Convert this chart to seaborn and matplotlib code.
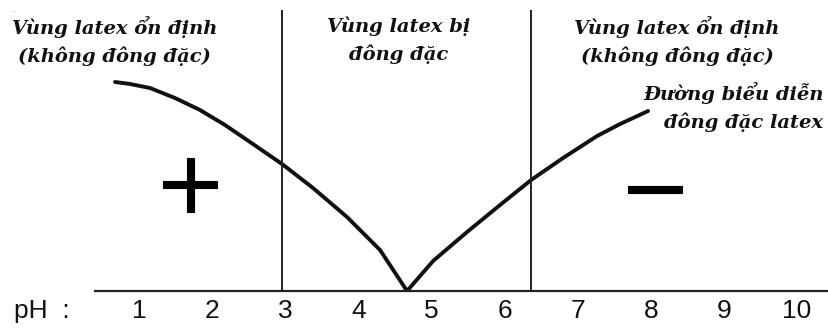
import matplotlib
matplotlib.use("Agg")
import matplotlib.pyplot as plt
import matplotlib.patheffects as pe
import seaborn as sns
import pandas as pd

# ---- data ----
curve_ph = [0.672, 0.877, 1.150, 1.492, 1.834, 2.176, 2.518, 2.956, 3.380,
            3.845, 4.297, 4.666, 5.022, 5.487, 5.938, 6.363, 6.800, 7.265,
            7.580, 7.963]
curve_h = [209, 207, 203, 193, 181, 166, 149, 127, 103,
           74, 41, 0, 30, 59, 86, 111, 133, 155,
           167, 180]
boundaries_ph = [2.96, 6.36]
tick_ph = [1, 2, 3, 4, 5, 6, 7, 8, 9, 10]
tick_labels = ["1", "2", "3", "4", "5", "6", "7", "8", "9", "10"]
region_labels = ["Vùng latex ổn định\n(không đông đặc)",
                 "Vùng latex bị\nđông đặc",
                 "Vùng latex ổn định\n(không đông đặc)"]
region_label_ph = [0.67, 4.55, 8.36]
curve_label = "Đường biểu diễn\nđông đặc latex"
charge_labels = ["+", "\u2212"]
charge_ph = [1.70, 8.06]
charge_h = [103, 98]

sns.set_theme(style="white")
plt.rcParams["font.family"] = ["DejaVu Sans"]

W, H = 829, 333
fig = plt.figure(figsize=(W / 100, H / 100), dpi=100)
ax = fig.add_axes([95 / W, 42 / H, 732 / W, 281 / H])

df = pd.DataFrame({"pH": curve_ph, "h": curve_h})
sns.lineplot(data=df, x="pH", y="h", color="#111111", lw=2.8, ax=ax,
             estimator=None, sort=True)
for ln in ax.lines:
    ln.set_solid_joinstyle("round")
    ln.set_solid_capstyle("round")

ax.vlines(boundaries_ph, 0, 281, color="#222222", lw=1.4)

ax.set_xlim(0.398, 10.41)
ax.set_ylim(0, 281)

for s in ["top", "left", "right"]:
    ax.spines[s].set_visible(False)
ax.spines["bottom"].set_color("#222222")
ax.spines["bottom"].set_linewidth(1.6)
ax.set_yticks([])
ax.set_xticks(tick_ph)
sans_narrow = ["Liberation Sans Narrow", "Liberation Sans", "DejaVu Sans"]
ax.set_xticklabels(tick_labels, family=sans_narrow, fontsize=19, color="#111111")
ax.tick_params(axis="x", length=0, pad=6)
ax.set_xlabel("")
ax.set_ylabel("")

fig.text(14 / W, 1 - 311 / H, "pH  :", family=sans_narrow,
         fontsize=19, color="#111111", ha="left", va="center")

serif = dict(family="DejaVu Serif", fontweight="bold", fontstyle="italic",
             color="#111111", fontsize=14, linespacing=1.55)
for lab, xp in zip(region_labels, region_label_ph):
    ax.text(xp, 275, lab, ha="center", va="top", **serif)
ax.text(10.36, 209, curve_label, ha="right", va="top", **serif)

for lab, xp, yp in zip(charge_labels, charge_ph, charge_h):
    ax.text(xp, yp, lab, ha="center", va="center", fontsize=62,
            color="black", family="DejaVu Sans",
            path_effects=[pe.withStroke(linewidth=0.8, foreground="black")])

fig.text(12 / W, 1 - 12 / H, ".", fontsize=5, color="#555555")

fig.savefig("out.png", dpi=100)
